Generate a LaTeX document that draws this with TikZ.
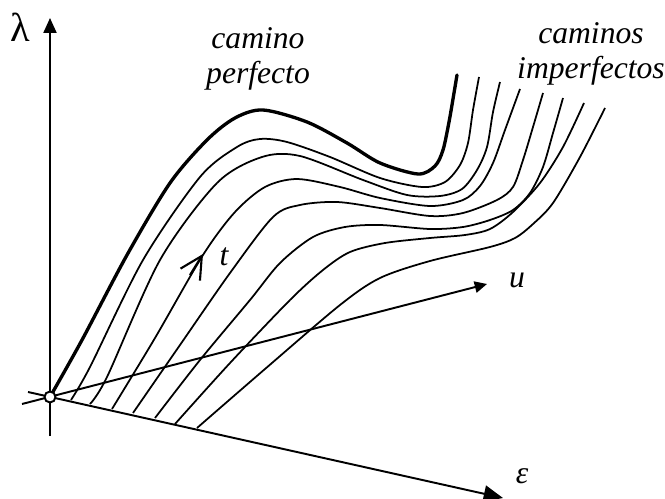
\documentclass[tikz,border=0pt]{standalone}
\usepackage{fontspec}
\setmainfont{Liberation Serif}
\usetikzlibrary{arrows.meta}
\tikzset{
  axisline/.style={line width=1.1pt},
  perfectpath/.style={line width=1.9pt,line cap=round},
  imperfectpath/.style={line width=1pt},
  pathlabel/.style={font=\fontsize{18}{19.5}\selectfont\itshape,inner sep=0pt,align=center},
  axislabel/.style={font=\fontsize{23}{24}\selectfont,inner sep=0pt},
  originmark/.style={circle,draw,line width=1.1pt,fill=white,minimum size=0.22cm,inner sep=0pt}
}

\begin{document}
\begin{tikzpicture}[x=0.02cm,y=-0.02cm]
  \useasboundingbox (0,0) rectangle (665,499);
  % axes
  \coordinate (O) at (50,397);
  \coordinate (lbot) at (50,436);
  \coordinate (ltop) at (50,18);
  \coordinate (ubot) at (22,404);
  \coordinate (utop) at (487,284);
  \coordinate (ebot) at (28,392);
  \coordinate (etop) at (503,498);
  \draw[axisline,-{Triangle[length=8.5pt,width=7.4pt]}] (lbot) -- (ltop);
  \draw[axisline,-{Triangle[length=7pt,width=6.5pt]}] (ubot) -- (utop);
  \draw[axisline,-{Triangle[length=11pt,width=9.5pt]}] (ebot) -- (etop);
  % perfect path
  \draw[perfectpath] plot[smooth] coordinates {(50,397) (82,340) (127,255)
    (170,183) (207,140) (235,118) (263,110) (307,122) (347,143) (380,163) (418,174)
    (435,166) (443,150) (449,122) (454,93) (457,75)};
  % imperfect paths
  \draw[imperfectpath] plot[smooth] coordinates {(71,400) (90,367) (143,260) (200,177)
    (237,147) (260,139) (287,142) (330,157) (380,178) (422,187) (445,182) (460,165)
    (468,143) (473,110) (479,77)};
  \draw[imperfectpath] plot[smooth] coordinates {(90,404) (107,377) (160,260) (217,183)
    (262,157) (300,156) (363,180) (407,195) (440,196) (462,189) (477,170) (487,147)
    (493,112) (500,82)};
  \draw[imperfectpath] plot[smooth] coordinates {(112,409) (155,338) (203,255) (235,212)
    (265,187) (297,179) (340,187) (380,198) (430,206) (463,200) (480,186) (493,163)
    (505,130) (520,89)};
  \draw[imperfectpath] plot[smooth] coordinates {(133,413) (180,345) (230,273) (273,217)
    (300,205) (337,202) (380,208) (430,216) (463,213) (497,200) (513,187) (523,160)
    (533,127) (543,93)};
  \draw[imperfectpath] plot[smooth] coordinates {(155,418) (200,360) (250,300) (280,263)
    (313,237) (345,227) (380,225) (430,229) (463,227) (490,220) (513,210) (530,193)
    (543,167) (553,133) (563,98)};
  \draw[imperfectpath] plot[smooth] coordinates {(175,424) (230,363) (290,300) (323,270)
    (350,252) (385,243) (430,238) (465,235) (490,229) (513,212) (540,183) (563,147)
    (584,103)};
  \draw[imperfectpath] plot[smooth] coordinates {(197,428) (265,369) (340,305) (380,278)
    (430,261) (490,247) (515,238) (533,224) (553,203) (580,157) (605,108)};
  % direction of t
  \coordinate (tbase) at (190,275);
  \coordinate (ttip) at (203,254);
  \draw[imperfectpath,line width=1.2pt,-{Straight Barb[length=12.5pt,width=13pt]}] (tbase) -- (ttip);
  \node[originmark] (orig) at (O) {};
  % labels
  \node[axislabel] (lam) at (20,27) {λ};
  \node[pathlabel] (perf) at (258,59) {camino\\perfecto};
  \node[pathlabel] (imperf) at (591,54) {caminos\\imperfectos};
  \node[pathlabel] (ulab) at (517,280) {u};
  \node[pathlabel] (elab) at (522,476) {ε};
  \node[pathlabel] (tlab) at (224,257) {t};
\end{tikzpicture}
\end{document}
